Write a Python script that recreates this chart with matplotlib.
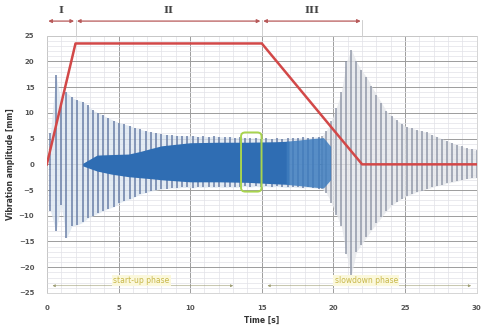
import numpy as np
import matplotlib.pyplot as plt
from matplotlib.patches import FancyBboxPatch
import matplotlib.transforms as mtransforms

# ---------------------------------------------------------------------------
# Data
# ---------------------------------------------------------------------------
# speed profile (red line)
speed_t = [0.0, 2.0, 15.0, 22.0, 30.0]
speed_v = [0.0, 23.5, 23.5, 0.0, 0.0]

# start-up spikes (time, top, bottom)
start_t = [0.25, 0.63, 1.0, 1.37, 1.75, 2.1, 2.5, 2.85, 3.2, 3.6, 3.95, 4.3,
           4.7, 5.05, 5.4, 5.8, 6.15, 6.5, 6.9, 7.25, 7.6, 8.0, 8.35, 8.7,
           9.1, 9.45, 9.8, 10.2, 10.55, 10.9, 11.3, 11.65, 12.0, 12.4, 12.75,
           13.1, 13.5, 13.85, 14.2, 14.6, 14.95, 15.3, 15.7, 16.05, 16.4,
           16.8, 17.15, 17.5, 17.9, 18.25, 18.6, 19.0]
start_top = [6.0, 17.4, 12.0, 14.0, 13.0, 12.5, 12.2, 11.5, 10.5, 10.0, 9.5,
             9.0, 8.5, 8.1, 7.8, 7.5, 7.1, 6.8, 6.5, 6.3, 6.1, 5.9, 5.8, 5.7,
             5.6, 5.6, 5.5, 5.6, 5.4, 5.5, 5.3, 5.5, 5.4, 5.3, 5.4, 5.2, 5.3,
             5.2, 5.1, 5.2, 5.0, 5.1, 5.0, 5.1, 5.0, 5.1, 5.2, 5.1, 5.3, 5.2,
             5.3, 5.4]
start_bot = [-9.0, -13.0, -8.0, -14.3, -12.0, -11.8, -11.3, -10.5, -10.0,
             -9.5, -9.0, -8.6, -8.2, -7.5, -7.1, -6.8, -6.3, -5.8, -5.5,
             -5.2, -5.0, -4.8, -4.7, -4.6, -4.6, -4.5, -4.5, -4.6, -4.4,
             -4.5, -4.4, -4.5, -4.4, -4.5, -4.4, -4.5, -4.4, -4.3, -4.4,
             -4.3, -4.4, -4.3, -4.4, -4.3, -4.4, -4.5, -4.4, -4.5, -4.6,
             -4.5, -4.6, -4.7]

# slowdown spikes (time, top, bottom)
slow_t = [19.2, 19.5, 19.85, 20.2, 20.55, 20.9, 21.25, 21.6, 21.95, 22.3,
          22.65, 23.0, 23.35, 23.7, 24.05, 24.4, 24.75, 25.1, 25.45, 25.8,
          26.15, 26.5, 26.85, 27.2, 27.55, 27.9, 28.25, 28.6, 28.95, 29.3,
          29.65, 30.0]
slow_top = [5.5, 6.5, 8.5, 11.0, 14.0, 20.0, 22.3, 20.0, 18.3, 17.0, 15.2,
            13.5, 12.0, 10.3, 9.4, 8.6, 7.9, 7.3, 7.0, 6.7, 6.5, 6.2, 5.8,
            5.4, 5.0, 4.6, 4.2, 3.8, 3.5, 3.1, 2.9, 2.7]
slow_bot = [-4.8, -5.5, -7.5, -9.8, -12.0, -17.5, -21.5, -17.0, -15.6,
            -14.2, -12.8, -11.5, -10.3, -9.0, -8.0, -7.3, -6.7, -6.2, -5.8,
            -5.4, -5.1, -4.8, -4.5, -4.2, -4.0, -3.7, -3.5, -3.3, -3.0,
            -2.8, -2.7, -2.6]

# dense band (steady running), dark part and lighter tail
band_t = [2.5, 3.0, 3.5, 4.5, 5.7, 6.5, 7.3, 8.0, 9.0, 10.0, 12.0, 14.0,
          16.0, 16.9]
band_up = [0.2, 1.0, 1.8, 1.9, 2.0, 2.5, 3.1, 3.6, 3.9, 4.2, 4.3, 4.3, 4.4,
           4.5]
band_lo = [-0.3, -0.8, -1.3, -1.9, -2.4, -2.6, -2.8, -3.0, -3.2, -3.4, -3.4,
           -3.5, -3.8, -3.9]
tail_t = [16.7, 17.5, 18.5, 19.3, 19.8]
tail_up = [4.5, 4.7, 5.0, 5.2, 3.5]
tail_lo = [-3.9, -4.1, -4.4, -4.6, -3.0]

# highlighted window
win_t = [13.55, 14.98]
win_v = [-5.3, 6.2]

phases = ['I', 'II', 'III']
phase_edges = [0.0, 2.0, 15.0, 22.0]

# ---------------------------------------------------------------------------
# Figure
# ---------------------------------------------------------------------------
fig = plt.figure(figsize=(4.88, 3.31), dpi=100)
ax = fig.add_axes([0.096, 0.115, 0.881, 0.777])

ax.set_xlim(0, 30)
ax.set_ylim(-25, 25)
ax.set_xticks(np.arange(0, 31, 5))
ax.set_yticks(np.arange(-25, 26, 5))
ax.set_xticks(np.arange(0, 31, 1), minor=True)
ax.set_yticks(np.arange(-25, 26, 1), minor=True)
ax.grid(which='minor', color='#e2e2e8', linewidth=0.5)
ax.grid(which='major', color='#9c9c9c', linewidth=0.7)
ax.set_axisbelow(True)
ax.tick_params(which='both', length=0)
ax.tick_params(labelsize=5, colors='#555555', pad=9)
for lbl in ax.get_xticklabels() + ax.get_yticklabels():
    lbl.set_fontweight('bold')
for s in ax.spines.values():
    s.set_color('#cfcfcf')
    s.set_linewidth(0.6)

# light haze between spikes
ax.fill_between(start_t, start_bot, start_top, color='#dde6f0', alpha=0.8,
                lw=0, zorder=1)
ax.fill_between(slow_t, slow_bot, slow_top, color='#e4e6ea', alpha=0.8,
                lw=0, zorder=1)

# spikes
ax.vlines(start_t, start_bot, start_top, color='#5f75a0', lw=1.2,
          alpha=0.85, zorder=2)
ax.vlines(slow_t, slow_bot, slow_top, color='#858d9f', lw=1.2, alpha=0.8,
          zorder=2)

# dense band
ax.fill_between(band_t, band_lo, band_up, color='#2f6db3', lw=0, zorder=3)
ax.fill_between(tail_t, tail_lo, tail_up, color='#3f7dbe', alpha=0.85, lw=0,
                zorder=3)

# speed profile
ax.plot(speed_t, speed_v, color='#d24848', lw=1.8, zorder=5)

# window
box = FancyBboxPatch((win_t[0], win_v[0]), win_t[1] - win_t[0],
                     win_v[1] - win_v[0],
                     boxstyle='round,pad=0,rounding_size=0.3',
                     fill=False, edgecolor='#a8d44e', lw=1.4, zorder=6,
                     mutation_aspect=2.5)
ax.add_patch(box)

# phase arrows on top
trans = mtransforms.blended_transform_factory(ax.transData, ax.transAxes)
for i, name in enumerate(phases):
    a, b = phase_edges[i], phase_edges[i + 1]
    ax.annotate('', xy=(b, 1.057), xytext=(a, 1.057), xycoords=trans,
                textcoords=trans,
                arrowprops=dict(arrowstyle='<|-|>', color='#b85a5a',
                                lw=0.9, mutation_scale=5,
                                shrinkA=1, shrinkB=1),
                annotation_clip=False)
    ax.text((a + b) / 2, 1.10, name, transform=trans, ha='center',
            va='center', fontsize=7.5, fontweight='bold', color='#444444',
            family='DejaVu Serif')
for x in phase_edges[1:]:
    ax.plot([x, x], [1.0, 1.06], transform=trans, color='#c8c8c8', lw=0.6,
            clip_on=False)

# phase labels at bottom
bottom_labels = [(0.4, 13.0, 6.6, 'start-up phase'),
                 (15.4, 29.6, 22.3, 'slowdown phase')]
for a, b, xc, txt in bottom_labels:
    ax.annotate('', xy=(b, -23.6), xytext=(a, -23.6),
                arrowprops=dict(arrowstyle='<|-|>', color='#9a9a70', lw=0.4,
                                mutation_scale=4, shrinkA=0, shrinkB=0),
                zorder=6)
    ax.text(xc, -22.6, txt, ha='center', va='center', fontsize=5.5,
            color='#c8b84a',
            bbox=dict(facecolor='#fbf8dc', edgecolor='none', pad=1.0),
            zorder=7)

ax.set_xlabel('Time [s]', fontsize=5.5, fontweight='bold', color='#333333',
              labelpad=3)
ax.set_ylabel('Vibration amplitude [mm]', fontsize=5.5, fontweight='bold',
              color='#333333', labelpad=3)

fig.savefig('out.png', dpi=100, facecolor='white')
